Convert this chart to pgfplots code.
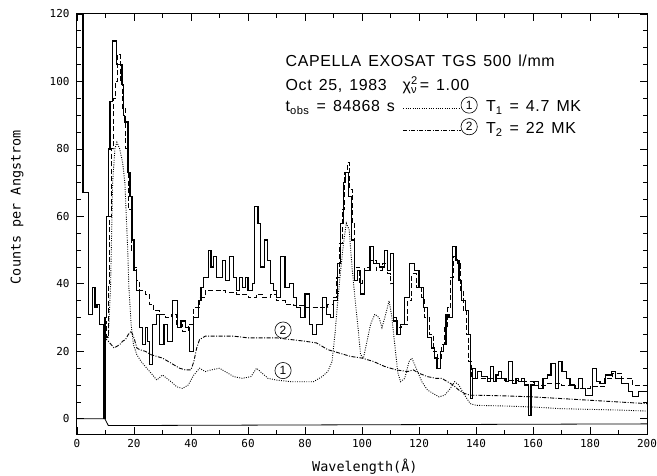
\documentclass[border=0pt]{standalone}
\usepackage{fontspec}
\usepackage{pgfplots}
\pgfplotsset{compat=1.18}
\setmainfont{Liberation Sans}
\newfontfamily\annfont[LetterSpace=4, WordSpace=1.4]{Liberation Sans}
\newfontfamily\monofont{DejaVu Sans Mono}
\tikzset{
  circ/.style={circle, draw, line width=0.6bp, inner sep=2bp, font=\fontsize{12}{13}\selectfont},
  ann/.style={anchor=base west, font=\annfont\fontsize{16}{18}\selectfont},
}

% observed spectrum (counts per Angstrom, histogram)
\pgfplotstableread{
x y
0 125
2.1 67
3.9 31
5.4 39
6.3 33
7 34
8 28
9.3 0
9.8 30
10.3 60
11 80
11.6 94
12.5 112
14 105
15.8 99
16.2 90
16.8 88
17.9 73
18.6 66
19.3 53
20 44
21 38
22 27
23 22
24 27
24.8 23
25.5 16
26.5 28
28 31
29 22
30.5 28
31.8 23
33.5 35
35.3 27
36.5 29
38 27
39.5 20
41 30
42.5 35
43.5 39
44.5 42
46 50
47 45
48 48
49 42
51 47
52 41
53.5 48
55 42
56 38
57 42
58 39
59 42
60 38
61.5 40
62.3 63
63.5 58
64.5 45
65.7 53
66.9 47
68 40
69 38
70 36
71.5 48
73 39
74.5 40
76 36
77 33
78.5 30
80 37
81.5 28
82.5 25
84 28
86 36
87.5 31
89 30
90 35
91.5 46
92.5 58
93.5 70
94.3 73
95.3 66
96.3 53
97.3 41
98.5 44
99.5 37
101 44
102.8 51
104 46
106 45
107.8 50
109 44
110 49
111 29
112.3 25
113.5 28
115 36
116.8 46
118.5 44
120 39
121.5 33
123 24
124.3 21
125.3 18
126.3 15
127.5 20
128.7 22
129.5 31
130.5 30
131.7 51
133 47
134 41
135 35
136.2 32
137.5 25
138 6
138.8 15
139.7 12
140.5 14
142 12.5
144 11
145 15.5
146 11
147 13
148 14
149 12
150.5 11
151.5 17
152.7 10.5
154 12
155 11
156 12
157 10
158.5 1
159.3 10
160.5 11
162 9
163.5 12
165 13
166.3 16.5
168 9
169 17
170.2 14
171.7 12
173 10
174.5 9
176 12
177.5 9
178.5 7
181 15
182.2 11
183.5 10.5
185.5 13
187.5 14
189 12
191 10.5
193.5 8
195 6.5
197 8
200 8
}\obs

% total model
\pgfplotstableread{
x y
9.8 0
9.8 29
10.5 24
11 40
11.5 60
12 80
12.8 95
13.5 100
14.3 108
15.2 100
16 92
17 80
18 62
19 50
20 45
21 41
22 38
24 37
25.5 34
27 32
29 31
31 30
33 31
35 28
37 26
39 28
41 33
43 36
45 38
48 38
52 37.5
56 37
60 36
63 37
65 36
68 37
70 35
73 34
76 33.5
80 33
84 33
88 34
90 36
91 42
92 52
93 62
94 73
94.8 76
95.5 68
96.5 58
97.5 45
99 40
100 41
101 45
103 47
105 44
107 46
109 43
110 40
111 30
112 27
114 28
116 35
117.5 43
119 39
121 36
122 30
123.5 25
125 20
126.5 18
128 22
129 27
130 33
131 42
132 48
133.5 46
134.5 38
135.5 32
136.5 25
137.5 17
138.5 12
140 12
145 12
150 11.5
155 11
160 10
165 10.5
170 10
175 9
180 9.5
185 12
188 13.5
191 12
195 10
200 7
}\total

% component 1, T1 = 4.7 MK
\pgfplotstableread{
x y
10 25
11 24
11.8 40
12.5 70
13.3 80
14 82
15 80
16 76
16.8 70
17.3 60
17.8 50
18.2 39
19 28
19.8 22
21 19
22.5 17
24 15.5
26 13.5
28 11.5
30 13
31.5 12
33 11
35 9.5
37 9
39 10
41 13
43 15
45 14
47 14.5
50 15
52 14
55 12.5
58 12
61 12.5
63 15
65 13.5
67 12
70 11.5
75 11
80 11
83 11
86 12.5
88 14
89.5 17
90.5 25
91.5 35
92.5 44
93.5 52
94.5 58
95.5 56
96.5 45
97.5 36
98.5 28
99.5 19
100.5 18
101.5 22
103 28
104.5 31
106 30
107 27
108 30
109.5 35
110.5 30
111.5 22
112.5 14
113.5 11
115 12
116.5 17
117.5 18
119 15
121 11
123 8.5
125 7.5
127 6.5
129 7
131 9
132.5 11
134 10
136 7
138 4.5
140 4
150 3.8
160 3.5
170 3
180 2.8
190 2.6
200 2.3
}\compone

% component 2, T2 = 22 MK
\pgfplotstableread{
x y
9.8 0
9.8 24
11 23
12 22
13 21
14 21.5
15 22
16 23
17 23.5
18 25
19 26
20 24
21 21
22 20.5
24 20
26 19
28 18.5
30 18
32 17
34 16
36 15
38 14.5
40 14.5
41 17
42 21
43 23.5
45 24.5
50 24.5
55 24.5
60 24
65 24
70 24
75 23.5
80 23
84 22.5
88 20.5
92 19.5
96 18.5
100 18
104 17
108 15.5
112 14.5
116 14
118 14.5
120 13.5
123 12.5
126 12
128 12
130 11
132 10
134 8.5
136 7.5
138 7
140 7
150 6.8
160 6.5
170 6
180 5.5
190 5
200 4.5
}\comptwo

\begin{document}
\begin{tikzpicture}
\begin{axis}[
  width=570bp, height=420bp, scale only axis,
  xmin=0, xmax=200, ymin=-4.5, ymax=120,
  xtick distance=20, ytick distance=20,
  minor x tick num=1, minor y tick num=3,
  tick align=inside, tick pos=both,
  major tick length=7bp, minor tick length=4bp,
  axis line style={line width=1bp},
  every tick/.style={black, line width=0.8bp},
  tick label style={font=\monofont\fontsize{11}{12}\selectfont},
  /pgf/number format/assume math mode=true,
  xticklabel style={yshift=-2bp},
  yticklabel style={xshift=-4bp},
  label style={font=\monofont\fontsize{13.5}{15}\selectfont},
  xlabel={Wavelength(Å)},
  ylabel={Counts per Angstrom},
  xlabel style={at={(axis description cs:0.505,-0.079)}, anchor=center},
  ylabel style={at={(axis description cs:-0.105,0.54)}, anchor=center, rotate=0},
  clip=true,
]
% zero level / background
\addplot[black, line width=0.8bp] coordinates {(0,0)(9.8,0)(11,-2)(200,-1.5)};
\addplot[black, line width=1.2bp, const plot mark left] table {\obs};
\addplot[black, line width=0.9bp, const plot mark left, dash pattern=on 5bp off 2.5bp] table {\total};
\addplot[black, line width=0.9bp, dash pattern=on 0.9bp off 1.4bp] table {\compone};
\addplot[black, line width=0.9bp, dash pattern=on 4bp off 1.5bp on 1bp off 1.5bp] table {\comptwo};
% key samples
\addplot[black, line width=0.9bp, dash pattern=on 0.9bp off 1.4bp] coordinates {(114.5,92)(134.6,92)};
\addplot[black, line width=0.9bp, dash pattern=on 4bp off 1.5bp on 1bp off 1.5bp] coordinates {(114.5,85.4)(134.6,85.4)};

\node[ann] at (axis cs:72,104.4) {CAPELLA EXOSAT TGS 500 l/mm};
\node[ann] at (axis cs:72,97.3) {Oct 25, 1983\quad χ\rlap{\textsuperscript{2}}\textsubscript{ν}\,= 1.00};
\node[ann] at (axis cs:72,91.1) {t\textsubscript{obs} = 84868 s};
\node[circ] at (axis cs:137.6,93) {1};
\node[circ] at (axis cs:137.6,86.6) {2};
\node[ann] at (axis cs:142.3,91.1) {T\textsubscript{1} = 4.7 MK};
\node[ann] at (axis cs:142.3,84.6) {T\textsubscript{2} = 22 MK};
\node[circ, fill=white] at (axis cs:72.3,26.3) {2};
\node[circ, fill=white] at (axis cs:72.3,14.3) {1};
\end{axis}
\pgfresetboundingbox
\path[use as bounding box] ([xshift=-77bp,yshift=-42bp]current axis.south west) rectangle ([xshift=10bp,yshift=14bp]current axis.north east);
\end{tikzpicture}
\end{document}
